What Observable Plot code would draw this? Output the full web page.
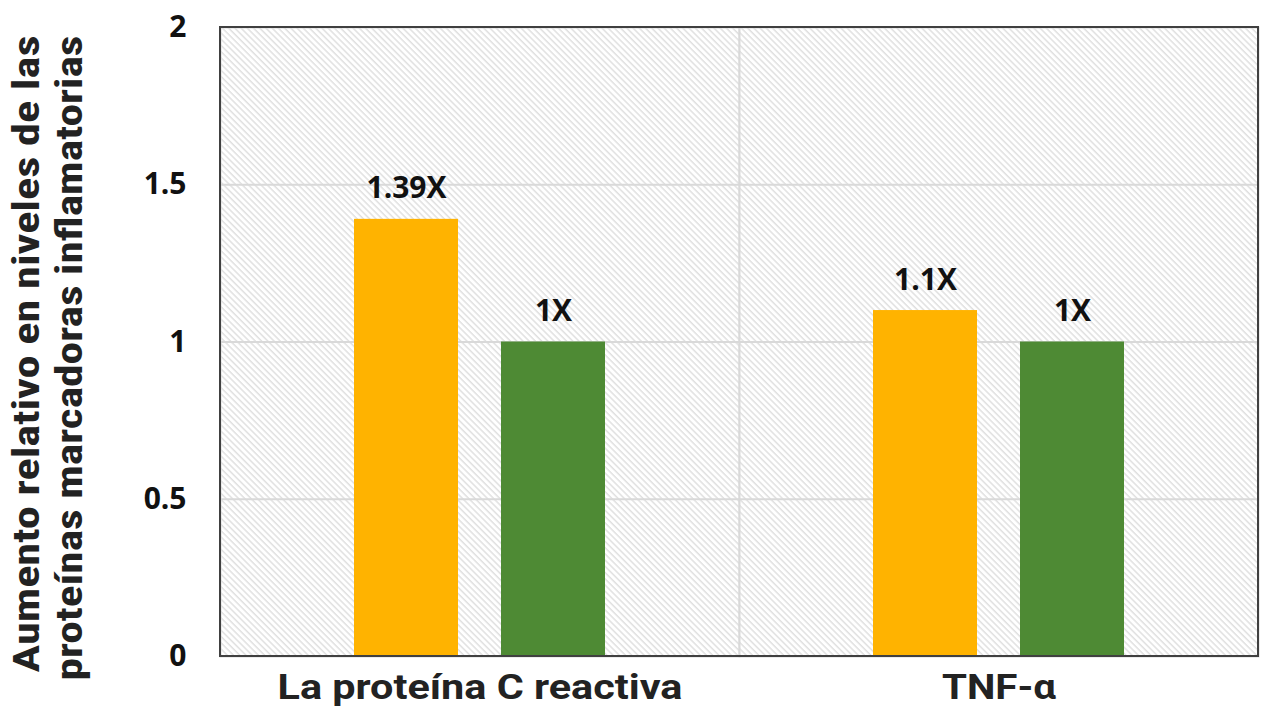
<!DOCTYPE html>
<html>
<head>
<meta charset="utf-8">
<script src="https://cdn.jsdelivr.net/npm/d3@7"></script>
<script src="https://cdn.jsdelivr.net/npm/@observablehq/plot@0.6"></script>
<style>
  html, body { margin: 0; padding: 0; background: #fff; overflow: hidden; }
</style>
</head>
<body>
<div id="chart"></div>
<script>
// ---- data ----
const categories = ["La proteína C reactiva", "TNF-α"];
const series = ["A", "B"];
const seriesColors = ["#FFB300", "#4E8A34"];
const valuesA = [1.39, 1.1];
const valuesB = [1, 1];
const labelsA = ["1.39X", "1.1X"];
const labelsB = ["1X", "1X"];
const yTicks = [0, 0.5, 1, 1.5, 2];
const yTickLabels = ["0", "0.5", "1", "1.5", "2"];
const gridValues = [0.5, 1, 1.5];
const yTitleLines = ["Aumento relativo en niveles de las", "proteínas marcadoras inflamatorias"];

const data = [];
categories.forEach((c, i) => {
  data.push({cat: c, series: series[0], value: valuesA[i], label: labelsA[i]});
  data.push({cat: c, series: series[1], value: valuesB[i], label: labelsB[i]});
});

const chart = Plot.plot({
  width: 1262,
  height: 709,
  marginLeft: 220,
  marginRight: 4,
  marginTop: 27,
  marginBottom: 53,
  style: {background: "#fff", fontFamily: "'Open Sans', sans-serif", overflow: "visible"},
  fx: {domain: categories, padding: 0, label: null},
  x: {domain: series, paddingInner: 0.29, paddingOuter: 0.91, axis: null},
  y: {domain: [0, 2], label: null},
  color: {domain: series, range: seriesColors},
  marks: [
    Plot.frame({fill: "url(#hatch)", stroke: "#d9d9d9", strokeWidth: 2}),
    Plot.ruleY(gridValues, {stroke: "#d9d9d9", strokeWidth: 2}),
    Plot.barY(data, {fx: "cat", x: "series", y: "value", fill: "series"}),
    Plot.text(data, {
      fx: "cat", x: "series", y: "value", text: "label",
      lineAnchor: "bottom", dy: -21,
      fontFamily: "'Open Sans', sans-serif", fontWeight: 700, fontSize: 30, fill: "#111"
    }),
    Plot.axisY({
      ticks: yTicks, tickFormat: (d) => yTickLabels[yTicks.indexOf(d)],
      tickSize: 0, tickPadding: 34, label: null,
      fontFamily: "'Open Sans', sans-serif", fontWeight: 700, fontSize: 30, fill: "#111"
    }),
    Plot.axisFx({
      anchor: "bottom", tickSize: 0, tickPadding: 18, label: null,
      className: "fxaxis",
      fontFamily: "Roboto, sans-serif", fontWeight: 700, fontSize: 35, fill: "#222"
    }),
    Plot.text([{cat: categories[0], t: yTitleLines[0]}], {
      fx: "cat", text: "t", frameAnchor: "left", rotate: -90,
      dx: -193, dy: 12, lineAnchor: "middle", textAnchor: "middle",
      className: "ytitle",
      fontFamily: "'Liberation Sans Narrow', 'Roboto Condensed', Roboto, sans-serif",
      fontWeight: 700, fontSize: 36, fill: "#222"
    }),
    Plot.text([{cat: categories[0], t: yTitleLines[1]}], {
      fx: "cat", text: "t", frameAnchor: "left", rotate: -90,
      dx: -150, dy: 16, lineAnchor: "middle", textAnchor: "middle",
      className: "ytitle2",
      fontFamily: "'Liberation Sans Narrow', 'Roboto Condensed', Roboto, sans-serif",
      fontWeight: 700, fontSize: 36, fill: "#222"
    })
  ]
});

// hatch pattern definition
const ns = "http://www.w3.org/2000/svg";
const defs = document.createElementNS(ns, "defs");
const pat = document.createElementNS(ns, "pattern");
pat.setAttribute("id", "hatch");
pat.setAttribute("patternUnits", "userSpaceOnUse");
pat.setAttribute("width", "4.4");
pat.setAttribute("height", "4.4");
pat.setAttribute("patternTransform", "rotate(-45)");
const bg = document.createElementNS(ns, "rect");
bg.setAttribute("width", "4.4"); bg.setAttribute("height", "4.4"); bg.setAttribute("fill", "#fff");
const ln = document.createElementNS(ns, "line");
ln.setAttribute("x1", "1"); ln.setAttribute("y1", "-1");
ln.setAttribute("x2", "1"); ln.setAttribute("y2", "6");
ln.setAttribute("stroke", "#dedede"); ln.setAttribute("stroke-width", "1.4");
pat.appendChild(bg); pat.appendChild(ln); defs.appendChild(pat);
chart.insertBefore(defs, chart.firstChild);

// outer dark border, from the scales' ranges
const fxr = chart.scale("fx").range || [220, 1258];
const ys = chart.scale("y");
const y0 = ys.apply(0), y2 = ys.apply(2);
const border = document.createElementNS(ns, "rect");
border.setAttribute("x", Math.min(...fxr));
border.setAttribute("y", y2);
border.setAttribute("width", Math.abs(fxr[1] - fxr[0]));
border.setAttribute("height", y0 - y2);
border.setAttribute("fill", "none");
border.setAttribute("stroke", "#404040");
border.setAttribute("stroke-width", "2");
chart.appendChild(border);

// fit text lengths to the reference
const fit = (sel, lens) => chart.querySelectorAll(sel + " text").forEach((t, i) => {
  const L = Array.isArray(lens) ? lens[i] : lens;
  if (L) { t.setAttribute("textLength", L); t.setAttribute("lengthAdjust", "spacingAndGlyphs"); }
});
fit(".ytitle", 637);
fit(".ytitle2", 645);
fit(".fxaxis", [405, 114]);

document.getElementById("chart").appendChild(chart);
</script>
</body>
</html>
